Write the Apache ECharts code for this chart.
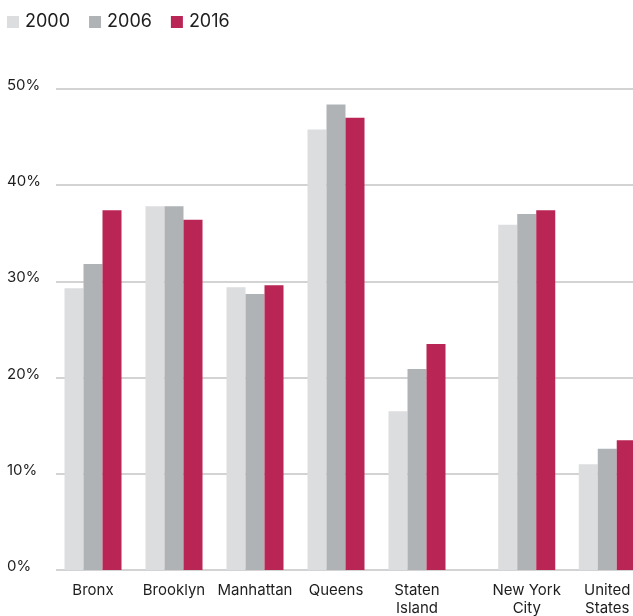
<!DOCTYPE html>
<html>
<head>
<meta charset="utf-8">
<script src="https://cdn.jsdelivr.net/npm/echarts@6/dist/echarts.min.js"></script>
<style>
  html, body { margin: 0; padding: 0; background: #fff; }
  #chart { width: 633px; height: 616px; }
</style>
</head>
<body>
<div id="chart"></div>
<script>
const boroughs = ['Bronx', 'Brooklyn', 'Manhattan', 'Queens', 'Staten\nIsland']
const totals = ['New York\nCity', 'United\nStates']
const years = ['2000', '2006', '2016']
const yTicks = [0, 10, 20, 30, 40, 50]

// share of values per year, boroughs then city / national
const boroughs2000 = [29.3, 37.8, 29.4, 45.8, 16.5]
const boroughs2006 = [31.8, 37.8, 28.7, 48.4, 20.9]
const boroughs2016 = [37.4, 36.4, 29.6, 47.0, 23.5]
const totals2000 = [35.9, 11.0]
const totals2006 = [37.0, 12.6]
const totals2016 = [37.4, 13.5]

const color = ['#dcdddf', '#afb3b6', '#b92555']
const font = 'Inter, Roboto, sans-serif'
const textColor = '#1e1e1e'

const chart = echarts.init(document.getElementById('chart'))

const catAxis = (gridIndex, data) => ({
  type: 'category',
  gridIndex,
  data,
  axisLine: { show: false },
  axisTick: { show: false },
  axisLabel: { interval: 0, color: textColor, fontSize: 15, fontFamily: font, margin: 11, lineHeight: 18 }
})
const hiddenY = gridIndex => ({
  type: 'value', gridIndex, min: 0, max: 50, show: false
})
const barSeries = (name, data, axisIndex, i) => ({
  name,
  type: 'bar',
  xAxisIndex: axisIndex,
  yAxisIndex: axisIndex,
  data,
  barWidth: 19,
  barGap: '0%',
  itemStyle: { color: color[i] },
  emphasis: { disabled: true }
})

chart.setOption({
  animation: false,
  color,
  textStyle: { fontFamily: font },
  legend: {
    data: years,
    left: 7,
    top: 13,
    padding: 0,
    icon: 'rect',
    itemWidth: 12,
    itemHeight: 12,
    itemGap: 19,
    textStyle: { fontSize: 18, color: textColor, fontFamily: font, padding: [0, 0, 0, 1] }
  },
  grid: [
    { left: 56, right: 0, top: 89, bottom: 46, outerBoundsMode: 'none', containLabel: false },
    { left: 52.5, width: 405, top: 89, bottom: 46, outerBoundsMode: 'none', containLabel: false },
    { left: 486.5, width: 161, top: 89, bottom: 46, outerBoundsMode: 'none', containLabel: false }
  ],
  xAxis: [
    { type: 'category', gridIndex: 0, data: [], show: false },
    catAxis(1, boroughs),
    catAxis(2, totals)
  ],
  yAxis: [
    {
      type: 'value',
      gridIndex: 0,
      min: yTicks[0],
      max: yTicks[yTicks.length - 1],
      interval: 10,
      axisLine: { show: false },
      axisTick: { show: false },
      splitLine: { lineStyle: { color: '#d3d3d3', width: 2 } },
      axisLabel: {
        color: textColor,
        fontSize: 15,
        fontFamily: font,
        align: 'left',
        margin: 49,
        verticalAlign: 'bottom',
        padding: [0, 0, -4, 0],
        formatter: v => v + '%'
      }
    },
    hiddenY(1),
    hiddenY(2)
  ],
  series: [
    barSeries('2000', boroughs2000, 1, 0),
    barSeries('2006', boroughs2006, 1, 1),
    barSeries('2016', boroughs2016, 1, 2),
    barSeries('2000', totals2000, 2, 0),
    barSeries('2006', totals2006, 2, 1),
    barSeries('2016', totals2016, 2, 2)
  ]
})
</script>
</body>
</html>
